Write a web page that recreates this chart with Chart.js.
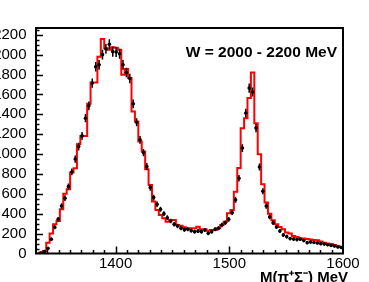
<!DOCTYPE html>
<html>
<head>
<meta charset="utf-8">
<script src="https://cdn.jsdelivr.net/npm/chart.js@4"></script>
<style>
html,body{margin:0;padding:0;background:#fff;}
canvas{display:block;}
</style>
</head>
<body>
<canvas id="c" width="369" height="282"></canvas>
<script>
// ---- data (3 MeV bins, M(pi+ Sigma-) from 1330 to 1600 MeV) ----
const binWidth = 3;
const massCenters = [
 1331.5,1334.5,1337.5,1340.5,1343.5,1346.5,1349.5,1352.5,1355.5,1358.5,
 1361.5,1364.5,1367.5,1370.5,1373.5,1376.5,1379.5,1382.5,1385.5,1388.5,
 1391.5,1394.5,1397.5,1400.5,1403.5,1406.5,1409.5,1412.5,1415.5,1418.5,
 1421.5,1424.5,1427.5,1430.5,1433.5,1436.5,1439.5,1442.5,1445.5,1448.5,
 1451.5,1454.5,1457.5,1460.5,1463.5,1466.5,1469.5,1472.5,1475.5,1478.5,
 1481.5,1484.5,1487.5,1490.5,1493.5,1496.5,1499.5,1502.5,1505.5,1508.5,
 1511.5,1514.5,1517.5,1520.5,1523.5,1526.5,1529.5,1532.5,1535.5,1538.5,
 1541.5,1544.5,1547.5,1550.5,1553.5,1556.5,1559.5,1562.5,1565.5,1568.5,
 1571.5,1574.5,1577.5,1580.5,1583.5,1586.5,1589.5,1592.5,1595.5,1598.5
];
// fitted histogram (red)
const fitCounts = [
 0,10,25,109,200,294,327,445,602,647,
 814,858,1100,1183,1183,1505,1720,1720,1980,2157,
 2065,2050,2075,2070,2050,1798,1855,1765,1428,1327,
 1126,1025,848,690,522,438,388,354,320,337,
 337,287,280,265,247,254,254,270,244,244,
 230,237,237,255,287,320,405,438,622,860,
 1260,1360,1563,1820,1311,999,697,512,401,334,
 294,267,244,210,200,176,165,153,150,145,
 140,135,133,120,109,100,95,85,75,65
];
// measured points (black)
const dataCounts = [
 null,5,20,52,143,264,344,478,556,673,
 820,950,1075,1183,1361,1485,1714,1878,1898,2000,
 2058,2105,2030,2027,2009,1898,1821,1760,1505,1320,
 1143,1015,874,663,562,495,445,401,360,327,
 294,277,254,240,244,230,220,225,220,237,
 203,220,244,254,287,310,344,411,539,757,
 1060,1412,1664,1624,1261,870,625,478,368,310,
 267,227,186,170,150,145,140,143,130,109,
 115,110,105,99,95,88,80,75,65,60
];
const dataErrors = [
 0,2,4,7,12,16,19,22,24,26,
 29,31,33,34,37,39,41,43,44,45,
 45,46,45,45,45,44,43,42,39,36,
 34,32,30,26,24,22,21,20,19,18,
 17,17,16,15,16,15,15,15,15,15,
 14,15,16,16,17,18,19,20,23,28,
 33,38,41,40,36,29,25,22,19,18,
 16,15,14,13,12,12,12,12,11,10,
 11,10,10,10,10,9,9,9,8,8
];
const xTickLabels = [1400, 1500, 1600];
const yTickLabels = [0,200,400,600,800,1000,1200,1400,1600,1800,2000,2200];
const xRange = [1330, 1600];
const yRange = [0, 2268];
const panelLabel = 'W = 2000 - 2200 MeV';
const xTitle = 'M(\u03C0\u207A\u03A3\u207B) MeV';

// ---- build library structures ----
const histPoints = [];
massCenters.forEach((m, i) => histPoints.push({x: m - binWidth / 2, y: fitCounts[i]}));
histPoints.push({x: massCenters[massCenters.length - 1] + binWidth / 2, y: fitCounts[fitCounts.length - 1]});
const dataPoints = [];
massCenters.forEach((m, i) => { if (dataCounts[i] !== null) dataPoints.push({x: m, y: dataCounts[i], e: dataErrors[i]}); });

const FONT = '"Liberation Sans", Arial, Helvetica, sans-serif';

const rootStyle = {
  id: 'rootStyle',
  beforeDatasetDraw(chart, args) {
    if (args.index !== 1) return;
    const {ctx, scales: {x, y}, chartArea: ca} = chart;
    ctx.save();
    ctx.beginPath(); ctx.rect(ca.left, ca.top, ca.right - ca.left, ca.bottom - ca.top); ctx.clip();
    ctx.strokeStyle = '#000';
    ctx.lineWidth = 1.5;
    dataPoints.forEach(p => {
      const px = x.getPixelForValue(p.x);
      const py = y.getPixelForValue(p.y);
      const hw = (x.getPixelForValue(p.x + binWidth / 2) - x.getPixelForValue(p.x - binWidth / 2)) / 2;
      ctx.beginPath();
      ctx.moveTo(px, y.getPixelForValue(p.y - p.e) + 0.5);
      ctx.lineTo(px, y.getPixelForValue(p.y + p.e) - 0.5);
      ctx.moveTo(px - hw * 0.7, py);
      ctx.lineTo(px + hw * 0.7, py);
      ctx.stroke();
    });
    ctx.restore();
  },
  afterDraw(chart) {
    const {ctx, scales: {x, y}, chartArea: ca} = chart;
    ctx.save();
    ctx.strokeStyle = '#000';
    // ticks (inside the frame)
    ctx.lineWidth = 1.5;
    ctx.beginPath();
    for (let v = 1340; v < xRange[1]; v += 10) {
      const px = Math.round(x.getPixelForValue(v)) + 0.5;
      const len = (v % 100 === 0) ? 7 : 3.5;
      ctx.moveTo(px, ca.bottom); ctx.lineTo(px, ca.bottom - len);
    }
    for (let v = 50; v < yRange[1]; v += 50) {
      const py = Math.round(y.getPixelForValue(v)) + 0.5;
      const len = (v % 200 === 0) ? 7 : 3.5;
      ctx.moveTo(ca.left, py); ctx.lineTo(ca.left + len, py);
    }
    ctx.stroke();
    // frame
    ctx.lineWidth = 2;
    ctx.strokeRect(ca.left, ca.top, ca.right - ca.left, ca.bottom - ca.top);
    // texts
    ctx.fillStyle = '#000';
    ctx.font = 'bold 15.5px ' + FONT;
    ctx.textAlign = 'right';
    ctx.textBaseline = 'alphabetic';
    ctx.fillText(panelLabel, ca.right - 6, ca.top + 28.5);
    ctx.font = 'bold 15px ' + FONT;
    ctx.fillText(xTitle, ca.right + 5, ca.bottom + 28);
    ctx.restore();
  }
};

new Chart(document.getElementById('c'), {
  type: 'scatter',
  data: {
    datasets: [
      {
        type: 'line',
        data: histPoints,
        stepped: 'before',
        borderColor: '#ff0000',
        borderWidth: 2,
        pointRadius: 0,
        fill: false,
        order: 2
      },
      {
        type: 'scatter',
        data: dataPoints,
        pointRadius: 1.8,
        pointBackgroundColor: '#000',
        pointBorderColor: '#000',
        pointBorderWidth: 0,
        order: 1
      }
    ]
  },
  options: {
    responsive: false,
    animation: false,
    devicePixelRatio: 1,
    layout: {padding: {top: 28, right: 26, left: 0, bottom: 0}},
    plugins: {legend: {display: false}, tooltip: {enabled: false}},
    scales: {
      x: {
        type: 'linear', min: xRange[0], max: xRange[1],
        grid: {display: false}, border: {display: false},
        afterBuildTicks: s => { s.ticks = xTickLabels.map(v => ({value: v})); },
        afterFit: s => { s.height = 28.5; },
        ticks: {color: '#000', font: {family: FONT, size: 15}, padding: -7, maxRotation: 0, autoSkip: false,
                callback: v => String(v)}
      },
      y: {
        type: 'linear', min: yRange[0], max: yRange[1],
        grid: {display: false}, border: {display: false},
        afterBuildTicks: s => { s.ticks = yTickLabels.map(v => ({value: v})); },
        afterFit: s => { s.width = 36; },
        ticks: {color: '#000', font: {family: FONT, size: 15}, padding: 1.5, autoSkip: false,
                callback: v => String(v)}
      }
    }
  },
  plugins: [rootStyle]
});
</script>
</body>
</html>
